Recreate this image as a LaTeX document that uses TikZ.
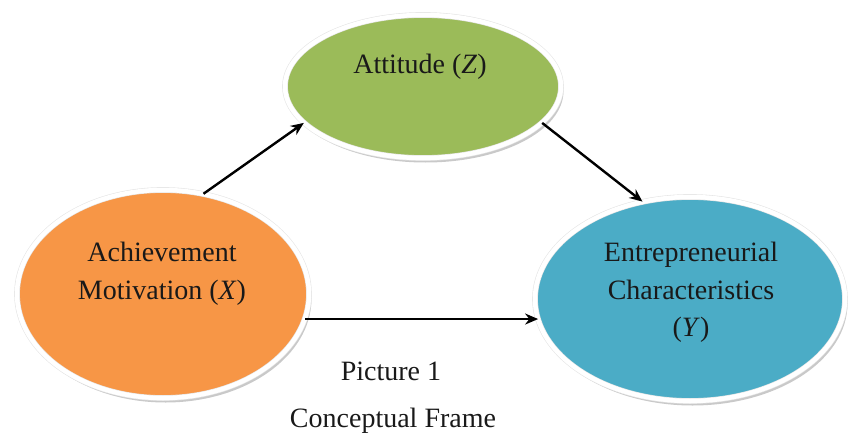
\documentclass[tikz,border=0pt]{standalone}
\usepackage{fontspec}
\setmainfont{Liberation Serif}
\usetikzlibrary{shapes.geometric,shadows,arrows.meta}
\definecolor{cgreen}{HTML}{9BBB59}
\definecolor{corange}{HTML}{F79646}
\definecolor{cblue}{HTML}{4BACC6}
\tikzset{
  oval/.style={ellipse, draw=black!10, line width=0.6pt, double=white, double distance=4.5pt, inner sep=0pt,
    drop shadow={shadow xshift=2.5pt, shadow yshift=-4.5pt, opacity=0.3, fill=black!70}},
  lbl/.style={align=center, inner sep=0pt, font=\fontsize{28}{37.5}\selectfont, text=black!90},
  conn/.style={-{Stealth[length=13pt,width=11pt]}, line width=2.4pt, black}
}
\begin{document}
\begin{tikzpicture}[x=1pt,y=-1pt]
\useasboundingbox (0,0) rectangle (851,436);
\node[oval, fill=cgreen, minimum width=276pt, minimum height=143pt] (Z) at (423,86.5) {};
\node[oval, fill=corange, minimum width=292pt, minimum height=208pt] (X) at (163,294) {};
\node[oval, fill=cblue, minimum width=310pt, minimum height=204pt] (Y) at (690,299) {};
\node[lbl] (Zt) at (420,67) {Attitude (\textit{Z})};
\node[lbl] (Xt) at (162,274) {Achievement\\Motivation (\textit{X})};
\node[lbl] (Yt) at (691,292.5) {Entrepreneurial\\Characteristics\\(\textit{Y})};
\node[lbl, anchor=base] (cap1) at (391,380) {Picture 1};
\node[lbl, anchor=base] (cap2) at (393,427) {Conceptual Frame};
\draw[conn] (X.68) -- (Z.197);
\draw[conn] (Z.343) -- (Y.116);
\draw[conn] (X.350) -- (X.350 -| Y.188);
\end{tikzpicture}
\end{document}
